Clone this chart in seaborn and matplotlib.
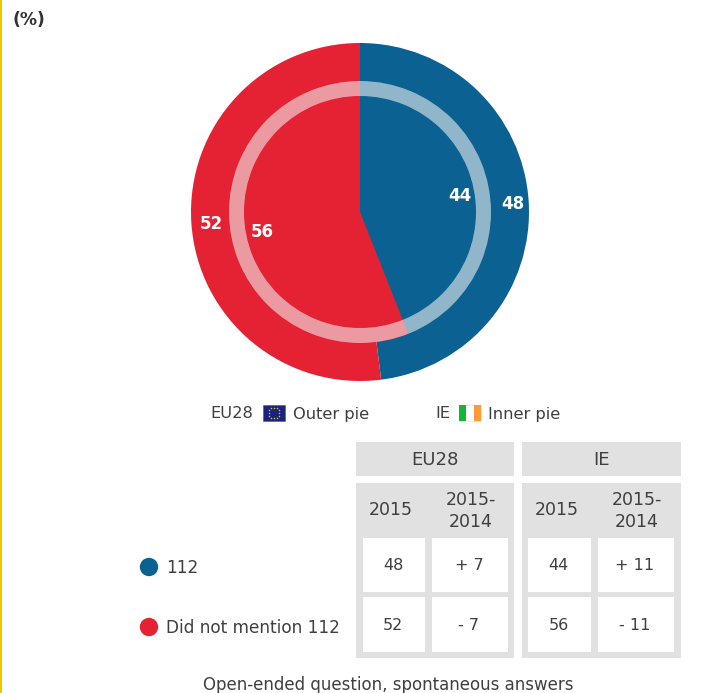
import numpy as np
import pandas as pd
import matplotlib
matplotlib.use("Agg")
import matplotlib.pyplot as plt
from matplotlib.patches import Rectangle, Wedge
import seaborn as sns

categories = ["112", "Did not mention 112"]
eu28_2015 = [48, 52]
ie_2015 = [44, 56]
eu28_diff = ["+ 7", "- 7"]
ie_diff = ["+ 11", "- 11"]
group_labels = ["EU28", "IE"]
col_labels = ["2015", "2015-\n2014"]
unit_label = "(%)"
note = "Open-ended question, spontaneous answers"

BLUE, RED = "#0b6292", "#e52233"
GRAY, INK = "#e1e1e1", "#3f3f3f"
W, H = 704, 693

sns.set_theme(style="white", rc={"font.family": ["DejaVu Sans"], "text.color": INK})
fig = plt.figure(figsize=(W / 100, H / 100), dpi=100, facecolor="white")

# Canvas in pixel coordinates
bg = fig.add_axes([0, 0, 1, 1])
bg.set_xlim(0, W)
bg.set_ylim(H, 0)
bg.axis("off")

def px_axes(x0, y0, x1, y1, **kw):
    return fig.add_axes([x0 / W, 1 - y1 / H, (x1 - x0) / W, (y1 - y0) / H], **kw)

# Pie axes: unit circle = outer radius
cx, cy, R = 360, 212, 169
pie = px_axes(cx - R, cy - R, cx + R, cy + R)
flat = dict(linewidth=0, edgecolor="none", antialiased=True)
pie.pie(eu28_2015, colors=[BLUE, RED], startangle=90, counterclock=False, radius=1.0, wedgeprops=flat)
pie.pie(ie_2015, colors=[BLUE, RED], startangle=90, counterclock=False, radius=131 / R, wedgeprops=flat)
pie.add_patch(Wedge((0, 0), 131 / R, 0, 360, width=(131 - 116) / R,
                    facecolor="#f0f0f0", alpha=0.59, linewidth=0))
pie.set_xlim(-1, 1)
pie.set_ylim(-1, 1)
pie.axis("off")

bold = dict(color="white", fontsize=12, fontweight="bold", ha="center", va="center")
bg.set_zorder(3)
for (x, y), v in zip([(513, 204), (211, 224)], eu28_2015):
    bg.text(x, y, str(v), **bold)
for (x, y), v in zip([(460, 196), (262, 232)], ie_2015):
    bg.text(x, y, str(v), **bold)

# Header and left border
bg.add_patch(Rectangle((0, 0), 2, H, facecolor="#f5c400", linewidth=0))
bg.text(12, 20, unit_label, fontsize=12.3, fontweight="bold", ha="left", va="center", color="#333333")

# Legend line with flags
bg.text(210, 414, group_labels[0], fontsize=11.7, ha="left", va="center")
bg.add_patch(Rectangle((263, 405), 22, 16, facecolor="#1a237e", edgecolor="#5560a0", linewidth=0.5))
ang = np.deg2rad(np.arange(0, 360, 30))
bg.scatter(274 + 5.2 * np.cos(ang), 413 + 5.2 * np.sin(ang), s=1.2, color="#e0c020", linewidths=0)
bg.text(293, 414, "Outer pie", fontsize=11.7, ha="left", va="center")
bg.text(435, 414, group_labels[1], fontsize=11.7, ha="left", va="center")
bg.add_patch(Rectangle((458.5, 405), 22.5, 16, facecolor="white", edgecolor="#dddddd", linewidth=0.5))
for i, c in zip([0, 2], ["#14b53a", "#ff9a3a"]):
    bg.add_patch(Rectangle((458.5 + i * 7.5, 405), 7.5, 16, facecolor=c, linewidth=0))
bg.text(488, 414, "Inner pie", fontsize=11.7, ha="left", va="center")

# Table
blocks = [
    (356, 514, [363, 432], [425, 508], group_labels[0], eu28_2015, eu28_diff, 391),
    (522, 681, [528, 598], [591, 674], group_labels[1], ie_2015, ie_diff, 557),
]
rows = [(538, 592), (597, 652)]
for x0, x1, lefts, rights, name, vals, diffs, first_x in blocks:
    bg.add_patch(Rectangle((x0, 442), x1 - x0, 34, facecolor=GRAY, linewidth=0))
    bg.text((x0 + x1) / 2, 460, name, fontsize=13, ha="center", va="center")
    bg.add_patch(Rectangle((x0, 483), x1 - x0, 175, facecolor=GRAY, linewidth=0))
    bg.text(first_x, 510, col_labels[0], fontsize=12.5, ha="center", va="center")
    bg.text((lefts[1] + rights[1]) / 2 + 1, 511, col_labels[1], fontsize=12.5, ha="center",
            va="center", linespacing=1.3)
    for (t, b), v, d in zip(rows, vals, diffs):
        for l, r, s in zip(lefts, rights, [str(v), d]):
            bg.add_patch(Rectangle((l, t), r - l, b - t, facecolor="white", linewidth=0))
            bg.text((l + r) / 2 - 1, (t + b) / 2 + 0.5, s, fontsize=11.5, ha="center", va="center")

# Category markers
df = pd.DataFrame({"x": [149, 149], "y": [567, 627], "cat": categories})
sns.scatterplot(data=df, x="x", y="y", hue="cat", palette=[BLUE, RED], s=175,
                linewidth=0, legend=False, ax=bg)
bg.set_xlim(0, W)
bg.set_ylim(H, 0)
bg.axis("off")
for y, c in zip(df["y"], categories):
    bg.text(166, y + 1, c, fontsize=12.2, ha="left", va="center")

bg.text(388, 685, note, fontsize=12, ha="center", va="center")

fig.savefig("out.png", dpi=100, facecolor="white")
